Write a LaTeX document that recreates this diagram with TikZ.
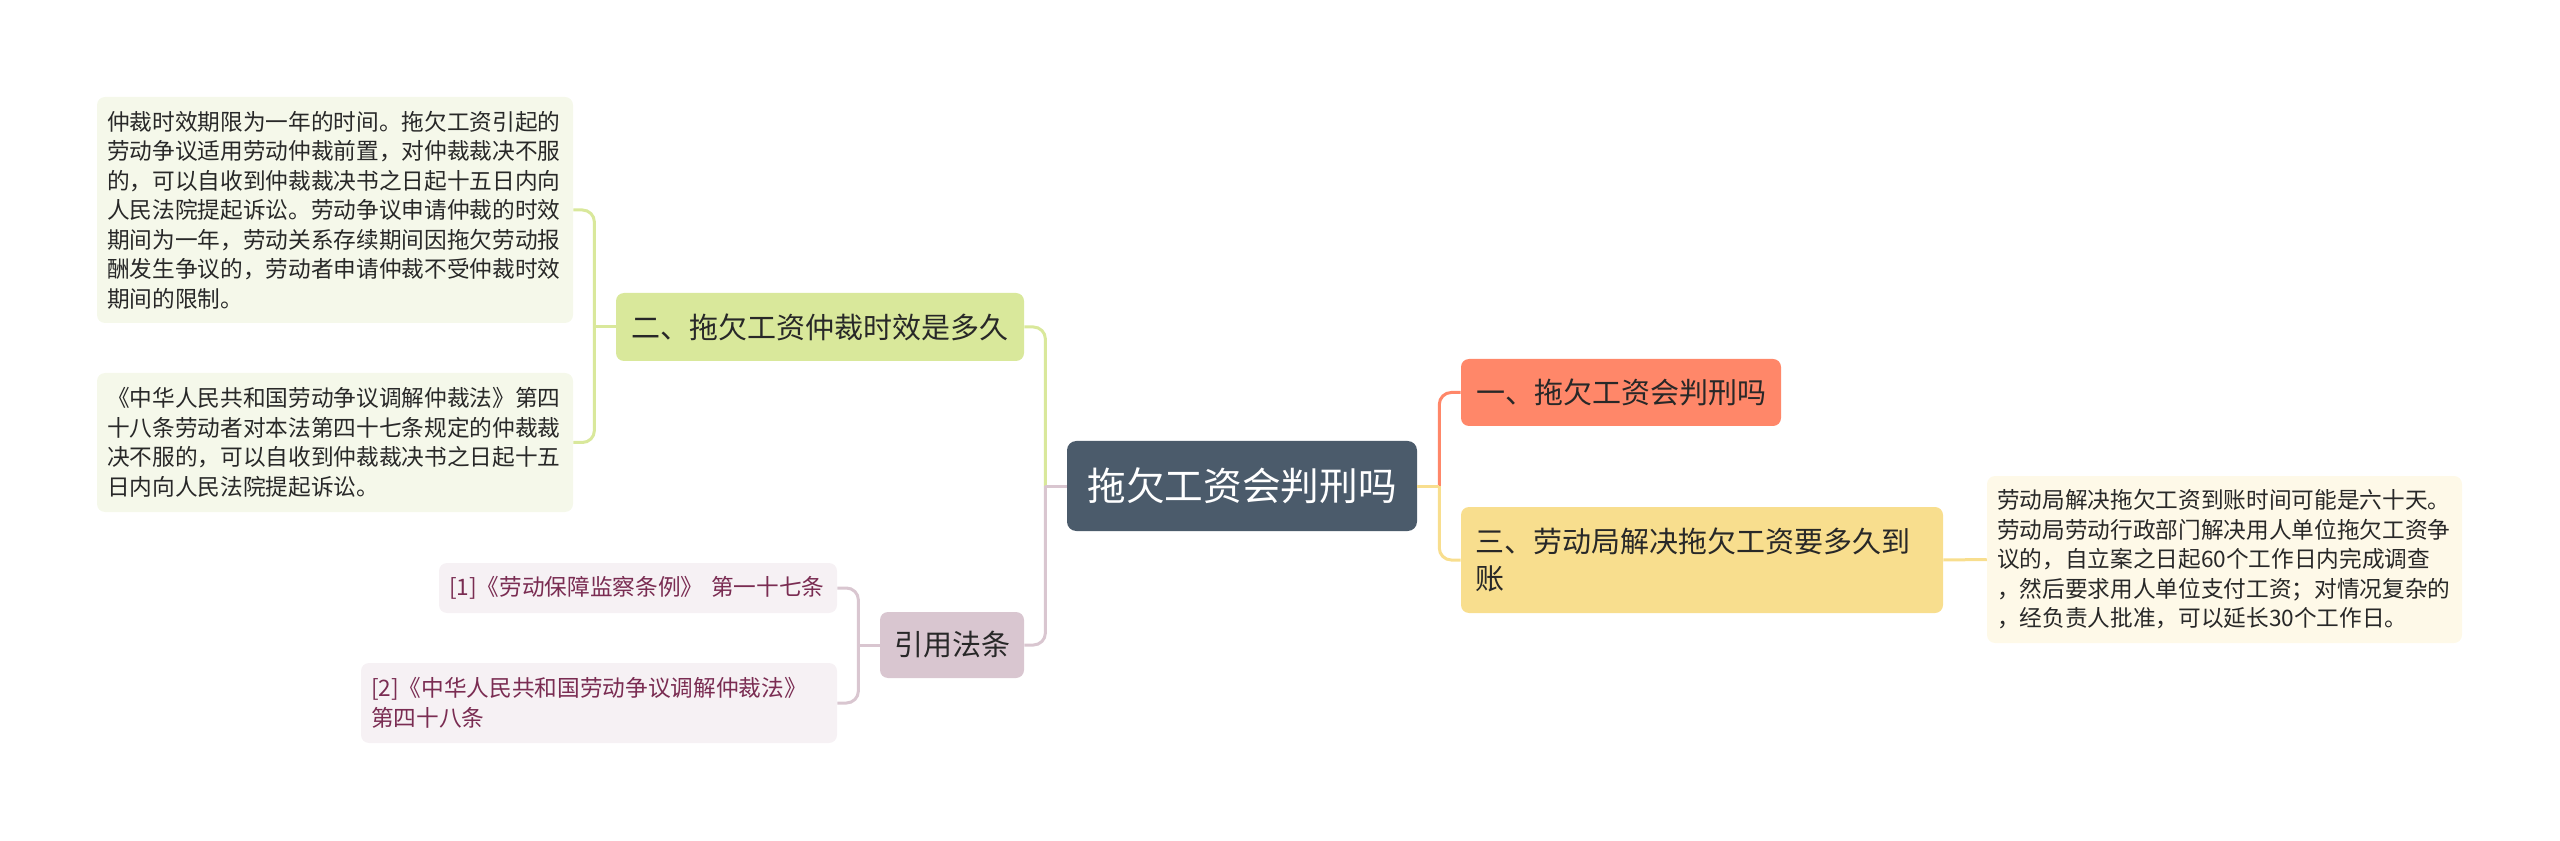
\documentclass[tikz,border=0pt]{standalone}
\usepackage{fontspec}
\setmainfont{Noto Sans CJK SC}
\usepackage{tikz}
\usepackage{xcolor}
\definecolor{slate}{RGB}{75,91,107}
\definecolor{salmon}{RGB}{255,135,105}
\definecolor{sand}{RGB}{248,222,142}
\definecolor{lime}{RGB}{217,232,155}
\definecolor{mauve}{RGB}{217,198,208}
\definecolor{limepale}{RGB}{245,248,234}
\definecolor{sandpale}{RGB}{254,249,232}
\definecolor{mauvepale}{RGB}{246,241,244}
\definecolor{citeink}{RGB}{122,44,82}
\definecolor{inkdark}{RGB}{40,40,40}

\begin{document}
\begin{tikzpicture}[x=0.75pt, y=-0.75pt,
    box/.style={rounded corners=6pt, inner sep=0pt, align=center},
    root/.style={box, fill=slate, text=white, rounded corners=7pt,
        font=\fontsize{29pt}{35pt}\selectfont},
    topic/.style={box, text=inkdark, font=\fontsize{21.75pt}{27.75pt}\selectfont},
    note/.style={box, text=inkdark, align=left, inner xsep=7.5pt,
        font=\fontsize{17pt}{22.1pt}\selectfont},
    cite/.style={note, fill=mauvepale, text=citeink},
    link/.style={line width=2.25pt, rounded corners=9pt}
]
    \useasboundingbox (0,0) rectangle (2560,841);

    % Central topic
    \node[root, minimum width=262.5pt, minimum height=67.5pt] (root) at (1242,486) {拖欠工资会判刑吗};

    % Right branches
    \node[topic, fill=salmon, minimum width=240pt, minimum height=50.25pt] (t1) at (1621,392.5) {一、拖欠工资会判刑吗};
    \node[topic, fill=sand, align=left, inner xsep=10.5pt, text width=340.5pt,
        minimum height=79.5pt] (t3) at (1702,560) {三、劳动局解决拖欠工资要多久到\\账};
    \node[note, fill=sandpale, text width=341.25pt, minimum height=125.25pt] (d3) at (2224.5,559.5)
        {劳动局解决拖欠工资到账时间可能是六十天。\\
         劳动局劳动行政部门解决用人单位拖欠工资争\\
         议的，自立案之日起60个工作日内完成调查\\
         ，然后要求用人单位支付工资；对情况复杂的\\
         ，经负责人批准，可以延长30个工作日。};

    % Left branches
    \node[topic, fill=lime, minimum width=306pt, minimum height=51pt] (t2) at (820,327) {二、拖欠工资仲裁时效是多久};
    \node[note, fill=limepale, text width=342pt, minimum height=169.5pt] (d2a) at (335,210)
        {仲裁时效期限为一年的时间。拖欠工资引起的\\
         劳动争议适用劳动仲裁前置，对仲裁裁决不服\\
         的，可以自收到仲裁裁决书之日起十五日内向\\
         人民法院提起诉讼。劳动争议申请仲裁的时效\\
         期间为一年，劳动关系存续期间因拖欠劳动报\\
         酬发生争议的，劳动者申请仲裁不受仲裁时效\\
         期间的限制。};
    \node[note, fill=limepale, text width=342pt, minimum height=104.25pt] (d2b) at (335,442.5)
        {《中华人民共和国劳动争议调解仲裁法》第四\\
         十八条劳动者对本法第四十七条规定的仲裁裁\\
         决不服的，可以自收到仲裁裁决书之日起十五\\
         日内向人民法院提起诉讼。};

    \node[topic, fill=mauve, minimum width=108pt, minimum height=49.5pt] (laws) at (952,645) {引用法条};
    \node[cite, text width=283.5pt, minimum height=37.5pt] (law1) at (638,588) {[1]《劳动保障监察条例》 第一十七条};
    \node[cite, text width=342pt, minimum height=60pt] (law2) at (599,703)
        {[2]《中华人民共和国劳动争议调解仲裁法》\\第四十八条};

    % Connectors from the centre
    \coordinate (lj) at ([xshift=-16pt]root.west);
    \coordinate (rj) at ([xshift=16.5pt]root.east);
    \draw[link, lime] (lj) |- (t2.east);
    \draw[link, mauve] (lj) |- (laws.east);
    \draw[link, mauve] (root.west) -- (lj);
    \draw[link, salmon] (rj) |- (t1.west);
    \draw[link, sand] (rj) |- (t3.west);
    \draw[link, sand] (root.east) -- (rj);

    % Connectors to the notes
    \draw[link, sand] (t3.east) -- (d3.west);
    \coordinate (gj) at ([xshift=-16pt]t2.west);
    \draw[link, lime] (t2.west) -- (gj);
    \draw[link, lime] (gj) |- (d2a.east);
    \draw[link, lime] (gj) |- (d2b.east);
    \coordinate (mj) at ([xshift=-16pt]laws.west);
    \draw[link, mauve] (laws.west) -- (mj);
    \draw[link, mauve] (mj) |- (law1.east);
    \draw[link, mauve] (mj) |- (law2.east);
\end{tikzpicture}
\end{document}
